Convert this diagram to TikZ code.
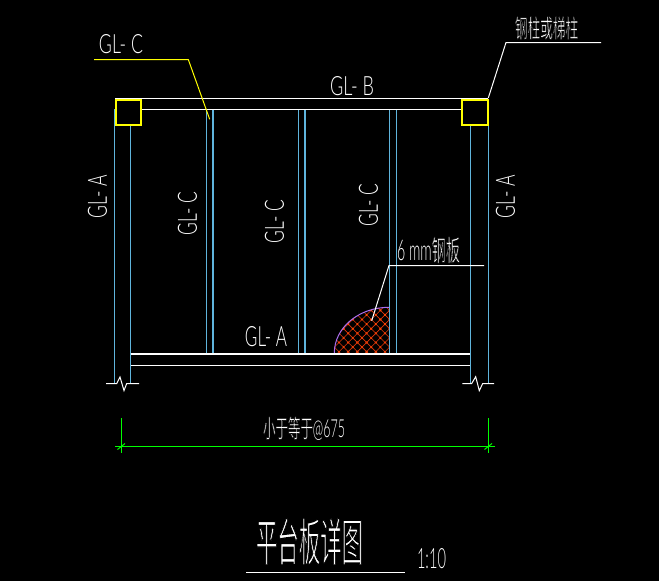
\documentclass[tikz,border=0pt]{standalone}
\usepackage{fontspec}
\setmainfont{Lato Light}
\newfontfamily\cjk{Noto Sans CJK SC}
\usetikzlibrary{calc}
\definecolor{cadblue}{RGB}{95,180,220}
\definecolor{cadred}{RGB}{225,55,10}
\definecolor{cadorange}{RGB}{255,70,0}
\definecolor{cadviolet}{RGB}{170,110,240}
\definecolor{cadyellow}{RGB}{255,255,0}
\definecolor{cadgreen}{RGB}{0,255,0}
\newcommand{\fittext}[3]{\resizebox{#1pt}{#2pt}{#3}}
\newcommand{\thincjk}[2]{\special{pdf:code 0 0 0 RG #1 w 2 Tr}{\cjk #2}\special{pdf:code 0 Tr}}
\tikzset{
	label/.style={text=white, inner sep=0pt},
	beam/.style={draw=white, line width=1pt},
	beamthick/.style={draw=white, line width=2pt},
	column/.style={draw=cadblue, line width=1pt},
	columnthick/.style={draw=cadblue, line width=2pt},
	leader/.style={draw=white, line width=1pt},
	dimline/.style={draw=cadgreen, line width=1pt},
	post/.style={draw=cadyellow, line width=2pt}
}
\begin{document}
\begin{tikzpicture}[x=1pt, y=-1pt]
			\useasboundingbox (0,0) rectangle (659,581);
			\fill[black] (0,0) rectangle (659,581);
			% hatched plate
			\begin{scope}
				\clip (334.3,353) arc[start angle=180, end angle=270, x radius=54.7, y radius=45.7] -- (389,353) -- cycle;
				\foreach \i in {-8,...,8} {
					\draw[cadred, line width=0.6pt] ($(362,328.7)+(9.2*\i-60,-60)$) -- ++(120,120);
					\draw[cadred, line width=0.6pt] ($(362,328.7)+(9.2*\i+60,-60)$) -- ++(-120,120);
					\foreach \j in {-6,...,6} {
						\fill[cadorange] ($(362,328.7)+(9.2*\i+4.6*\j,4.6*\j)$) circle (1.2);
					}
				}
			\end{scope}
			\draw[cadviolet, line width=1pt] (334.3,353) arc[start angle=180, end angle=270, x radius=54.7, y radius=45.7];
			% columns
			\draw[column] (114.5,109) -- (114.5,383);
			\draw[column] (130.5,125) -- (130.5,383);
			\draw[column] (470.5,125) -- (470.5,383);
			\draw[column] (488.5,109) -- (488.5,383);
			\draw[column] (206.8,109) -- (206.8,353);
			\draw[columnthick] (213,109) -- (213,353);
			\draw[column] (298.8,109) -- (298.8,353);
			\draw[columnthick] (305,109) -- (305,353);
			\draw[column] (389.5,109) -- (389.5,353);
			\draw[column] (396.5,109) -- (396.5,353);
			% beams
			\draw[beam] (115,98.5) -- (488,98.5);
			\draw[beam] (141,109.5) -- (462,109.5);
			\draw[beamthick] (130.5,353.5) -- (470,353.5);
			\draw[beam] (130.5,365.5) -- (470,365.5);
			% posts
			\draw[post] (115.5,99.5) rectangle (141,125);
			\draw[post] (462,99.5) rectangle (487.5,125);
			% break marks
			\draw[beam] (106,383.5) -- (116.7,383.5) -- (120,377) -- (124,390.6) -- (126.7,383.5) -- (139,383.5);
			\draw[beam] (462.3,383.5) -- (471.7,383.5) -- (475.7,376.7) -- (479.3,390.7) -- (482.7,383.5) -- (494,383.5);
			% leaders
			\draw[cadyellow, line width=1pt] (94,59.5) -- (188.3,59.5) -- (209.7,119.3);
			\draw[leader] (601,42.5) -- (506,42.5) -- (488.3,98);
			\draw[leader] (484,265.5) -- (389,265.5) -- (371.7,320.7);
			% dimension
			\draw[dimline] (115,446.5) -- (495,446.5);
			\draw[dimline] (121.5,418) -- (121.5,453);
			\draw[dimline] (488.5,418) -- (488.5,453);
			\draw[dimline] (117.5,449.5) -- (125,443.5);
			\draw[dimline] (484.5,449.5) -- (492,443.5);
			% title underline
			\draw[beam] (246,572.5) -- (405,572.5);
			% labels
			\node[label] (glctop) at (121,44.5) {\fittext{44}{19}{GL- C}};
			\node[label] (glb) at (352,86.5) {\fittext{44}{19}{GL- B}};
			\node[label] (glabottom) at (266,337) {\fittext{42}{20}{GL- A}};
			\node[label, rotate=90] (glaleft) at (97.5,196.5) {\fittext{43}{19}{GL- A}};
			\node[label, rotate=90] (glcone) at (187.5,213.5) {\fittext{43}{19}{GL- C}};
			\node[label, rotate=90] (glctwo) at (274.5,221.5) {\fittext{43}{19}{GL- C}};
			\node[label, rotate=90] (glcthree) at (368.5,205) {\fittext{43}{19}{GL- C}};
			\node[label, rotate=90] (glaright) at (505.5,196.5) {\fittext{43}{19}{GL- A}};
			\node[label] (postnote) at (546.5,28) {\fittext{63}{21}{\thincjk{0.2}{钢柱或梯柱}}};
			\node[label] (platenote) at (428.5,250) {\fittext{63}{24}{6 mm\thincjk{0.2}{钢板}}};
			\node[label] (spacing) at (304,428.5) {\fittext{82}{21}{\thincjk{0.2}{小于等于}@675}};
			\node[label] (title) at (309.5,541.5) {\fittext{107}{43}{\fontsize{30}{30}\selectfont\thincjk{0.7}{平台板详图}}};
			\node[label] (ratio) at (431.5,559) {\fittext{29}{20}{1:10}};
		\end{tikzpicture}
\end{document}
